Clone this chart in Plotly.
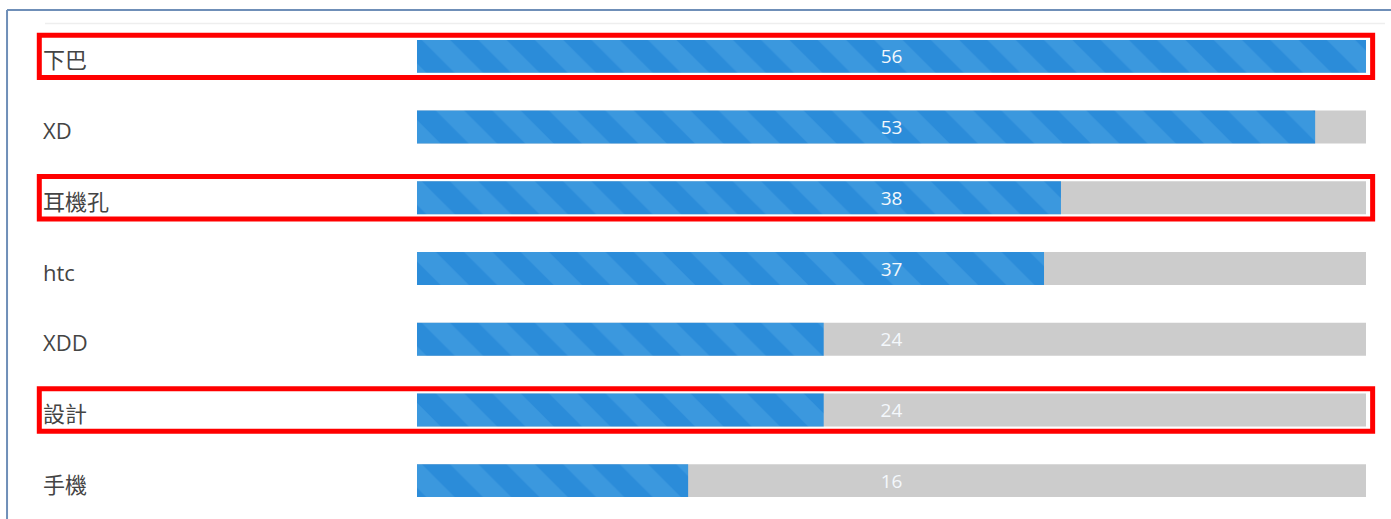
import plotly.graph_objects as go

categories = ["下巴", "XD", "耳機孔", "htc", "XDD", "設計", "手機"]
values = [56, 53, 38, 37, 24, 24, 16]
highlighted = ["下巴", "耳機孔", "設計"]

max_val = max(values)
FONT = "Open Sans, Noto Sans CJK TC, sans-serif"
DARK_BLUE = "#2B8CD9"
LIGHT_BLUE = "#4CA4E4"
GRAY = "#CCCCCC"

fig = go.Figure()

# background track
fig.add_trace(go.Bar(
    y=categories, x=[max_val] * len(categories), orientation="h",
    marker=dict(color=GRAY, line=dict(width=0)),
    hoverinfo="skip", showlegend=False,
))
# striped value bars
fig.add_trace(go.Bar(
    y=categories, x=values, orientation="h",
    marker=dict(
        color=DARK_BLUE, line=dict(width=0),
        pattern=dict(shape="\\", fillmode="overlay", fgcolor=LIGHT_BLUE,
                     size=40, solidity=0.5),
    ),
    hoverinfo="skip", showlegend=False,
))
# centered value labels
fig.add_trace(go.Bar(
    y=categories, x=[max_val] * len(categories), orientation="h",
    marker=dict(color="rgba(0,0,0,0)", line=dict(width=0)),
    text=[str(v) for v in values], textposition="inside",
    insidetextanchor="middle",
    textfont=dict(family=FONT, size=19, color="#F4F8FC"),
    hoverinfo="skip", showlegend=False,
))

annotations = []
for c in categories:
    annotations.append(dict(
        x=-0.396, xref="paper", y=c, yref="y", text=c, showarrow=False,
        xanchor="left", yanchor="middle", yshift=-3,
        font=dict(family=FONT, size=22, color="#444444"),
    ))

shapes = [
    # outer frame (top and left borders)
    dict(type="line", xref="paper", yref="paper", x0=-0.432, x1=1.03,
         y0=1.022, y1=1.022, line=dict(color="#6F8FB8", width=2)),
    dict(type="line", xref="paper", yref="paper", x0=-0.432, x1=-0.432,
         y0=-0.01, y1=1.022, line=dict(color="#6F8FB8", width=2)),
    # faint header line
    dict(type="line", xref="paper", yref="paper", x0=-0.392, x1=1.02,
         y0=0.995, y1=0.995, line=dict(color="#EEEEEE", width=1.5)),
]
for c in highlighted:
    i = categories.index(c)
    shapes.append(dict(
        type="rect", xref="paper", yref="y", x0=-0.398, x1=1.007,
        y0=i - 0.30, y1=i + 0.30,
        line=dict(color="#FF0000", width=5), fillcolor="rgba(0,0,0,0)",
        layer="above",
    ))

fig.update_layout(
    width=1391, height=519,
    margin=dict(l=417, r=25, t=21, b=3),
    paper_bgcolor="white", plot_bgcolor="white",
    barmode="overlay", bargap=0.534,
    xaxis=dict(range=[0, max_val], visible=False, showgrid=False, zeroline=False),
    yaxis=dict(categoryorder="array", categoryarray=categories,
               range=[len(categories) - 0.5, -0.5],
               showticklabels=False, showgrid=False, zeroline=False),
    annotations=annotations, shapes=shapes,
    uniformtext=dict(mode="show", minsize=10),
)

fig.write_html("out.html", config={"displayModeBar": False},
               post_script="document.body.style.margin='0';")
